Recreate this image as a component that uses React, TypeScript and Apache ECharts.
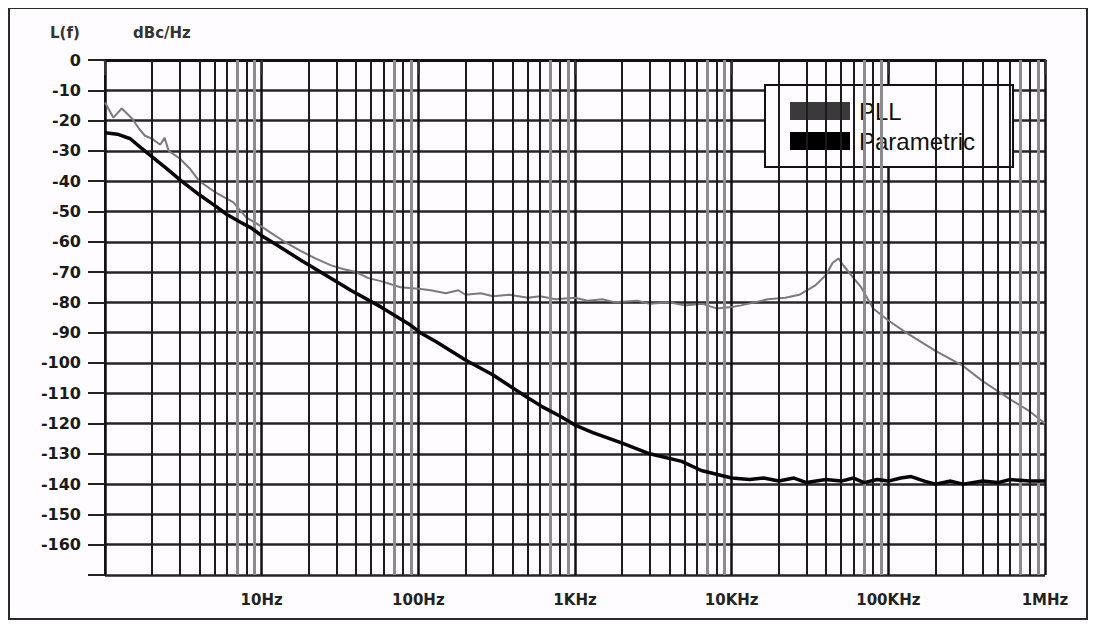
import React, { useEffect, useRef } from "react";
import * as echarts from "echarts";

// ---- data ----
const pllFreq = [
  1, 1.13, 1.28, 1.5, 1.65, 1.8, 2.0, 2.25, 2.4, 2.55, 3.0, 3.5, 4.0, 5.0, 6.6, 8.0, 10, 11.4,
  14, 17.7, 22, 27.5, 33, 40, 48, 57.6, 77, 100, 120, 150, 180, 200, 250, 300, 380, 500, 600,
  750, 1000, 1200, 1500, 1800, 2500, 3000, 4000, 5000, 6500, 8000, 10000, 11500, 14000, 17000,
  22000, 27000, 34000, 40000, 44000, 48000, 52000, 60000, 67000, 80000, 100000, 130000, 200000,
  300000, 400000, 600000, 800000, 1000000,
];
const pllDb = [
  -14, -19, -16, -19.5, -22.7, -25, -26, -28, -25.7, -30, -32.5, -36, -40, -43.5, -47, -52, -55, -57,
  -60, -63, -65.5, -67.7, -69, -70, -72, -73, -75, -75.5, -76, -77, -76, -77.5, -77, -78, -77.5, -78.5, -78,
  -79, -78.5, -79.5, -79, -80, -79.5, -80.5, -80, -81, -80.5, -82, -81.5, -81, -80, -79,
  -78.5, -77.5, -74.5, -71, -67, -65.5, -68, -72, -75, -82, -86, -90, -96,
  -101, -106, -112, -116, -120,
];

const parFreq = [
  1, 1.2, 1.45, 1.7, 2.0, 2.5, 3.0, 4.0, 5.0, 6.0, 7.0, 8.6, 10, 12, 17.7, 27.5, 37, 57.6, 89,
  103, 130, 200, 300, 500, 620, 800, 1000, 1300, 2000, 3000, 4800, 6400, 10000, 13000, 16000,
  20000, 25000, 30000, 40000, 50000, 60000, 70000, 85000, 100000, 120000, 140000, 170000, 200000,
  250000, 300000, 400000, 500000, 600000, 800000, 1000000,
];
const parDb = [
  -24, -24.5, -26, -29, -32, -36, -39.5, -44.5, -48, -51, -53, -55.5, -58, -60.5, -66, -72, -76, -81.5, -87.5,
  -90, -93, -99, -104, -111.5, -114.5, -117.5, -120.5, -123, -126.5, -130, -132.5, -135.5, -138, -138.5, -138,
  -139, -138, -139.5, -138.5, -139, -138, -139.5, -138.5, -139, -138, -137.5, -139, -140,
  -139, -140, -139, -139.5, -138.5, -139, -139,
];

const decadeValues = [1, 10, 100, 1000, 10000, 100000, 1000000];
const decadeLabels = ["", "10Hz", "100Hz", "1KHz", "10KHz", "100KHz", "1MHz"];
const minorMultipliers = [2, 3, 4, 5, 6, 7, 8, 9];
const seriesNames = ["PLL", "Parametric"];

export default function App() {
  const ref = useRef<HTMLDivElement>(null);

  useEffect(() => {
    if (!ref.current) return;
    const chart = echarts.init(ref.current, null, { renderer: "svg" });

    const minorLines: any[] = [];
    decadeValues.slice(0, 6).forEach((d) => {
      minorMultipliers.forEach((k) => {
        const gray = k === 7 || k === 9;
        minorLines.push({
          xAxis: k * d,
          lineStyle: {
            color: gray ? "#8c8c8c" : "#1c1c1c",
            width: gray ? 3 : 2,
            type: "solid",
          },
        });
      });
    });

    const option: any = {
      animation: false,
      backgroundColor: "#fefcfe",
      grid: { left: 97, right: 43, top: 52, bottom: 45, containLabel: false },
      xAxis: {
        type: "log",
        logBase: 10,
        min: 1,
        max: 1000000,
        axisLine: { show: true, lineStyle: { color: "#111", width: 3 } },
        axisTick: { show: true, length: 15, lineStyle: { color: "#333", width: 2 } },
        axisLabel: {
          margin: 17,
          color: "#222",
          fontSize: 15,
          fontWeight: "bold",
          fontFamily: "DejaVu Sans",
          formatter: (v: number) => {
            const i = decadeValues.findIndex((d) => Math.abs(d - v) / d < 1e-6);
            return i >= 0 ? decadeLabels[i] : "";
          },
        },
        splitLine: { show: true, lineStyle: { color: "#111", width: 2.5 } },
        minorTick: { show: false },
      },
      yAxis: {
        type: "value",
        min: -170,
        max: 0,
        interval: 10,
        axisLine: { show: true, lineStyle: { color: "#111", width: 2 } },
        axisTick: { show: true, length: 17, lineStyle: { color: "#222", width: 2 } },
        axisLabel: {
          margin: 24,
          color: "#1a1a1a",
          fontSize: 16,
          fontWeight: "bold",
          fontFamily: "DejaVu Sans",
          formatter: (v: number) => (Math.round(v) <= -170 ? "" : String(Math.round(v))),
        },
        splitLine: { show: true, lineStyle: { color: "#262626", width: 2.5 } },
      },
      legend: {
        orient: "vertical",
        left: 757,
        top: 77,
        padding: [14, 38, 14, 25],
        itemGap: 6,
        itemWidth: 60,
        itemHeight: 18,
        icon: "rect",
        backgroundColor: "#fefcfe",
        borderColor: "#111",
        borderWidth: 2,
        borderRadius: 0,
        textStyle: {
          fontSize: 24,
          fontFamily: "Liberation Sans",
          color: "#111",
          padding: [0, 0, 0, 4],
        },
        data: [
          { name: seriesNames[0], itemStyle: { color: "#3a3a3a", borderWidth: 0 } },
          { name: seriesNames[1], itemStyle: { color: "#000", borderWidth: 0 } },
        ],
      },
      graphic: [
        {
          type: "rect",
          silent: true,
          shape: { x: 1, y: 0, width: 1078, height: 611 },
          style: { fill: "none", stroke: "#2a2a2a", lineWidth: 2 },
        },
        {
          type: "text",
          left: 42,
          top: 17,
          style: {
            text: "L(f)",
            font: "bold 15px DejaVu Sans",
            fill: "#333",
          },
        },
        {
          type: "text",
          left: 125,
          top: 17,
          style: {
            text: "dBc/Hz",
            font: "bold 15px DejaVu Sans",
            fill: "#333",
          },
        },
      ],
      series: [
        {
          name: "grid-minor",
          type: "line",
          data: [[1, -170]],
          symbol: "none",
          lineStyle: { opacity: 0 },
          silent: true,
          z: 1,
          legendHoverLink: false,
          markLine: {
            silent: true,
            symbol: ["none", "none"],
            label: { show: false },
            emphasis: { disabled: true },
            animation: false,
            data: minorLines,
          },
        },
        {
          name: seriesNames[0],
          type: "line",
          data: pllFreq.map((f, i) => [f, pllDb[i]]),
          symbol: "none",
          lineStyle: { color: "#7a7a7a", width: 2 },
          itemStyle: { color: "#3a3a3a" },
          z: 4,
        },
        {
          name: seriesNames[1],
          type: "line",
          data: parFreq.map((f, i) => [f, parDb[i]]),
          symbol: "none",
          lineStyle: { color: "#050505", width: 3.5 },
          itemStyle: { color: "#000" },
          z: 5,
        },
      ],
    };

    chart.setOption(option);
    return () => chart.dispose();
  }, []);

  return <div ref={ref} style={{ width: 1080, height: 612 }} />;
}
